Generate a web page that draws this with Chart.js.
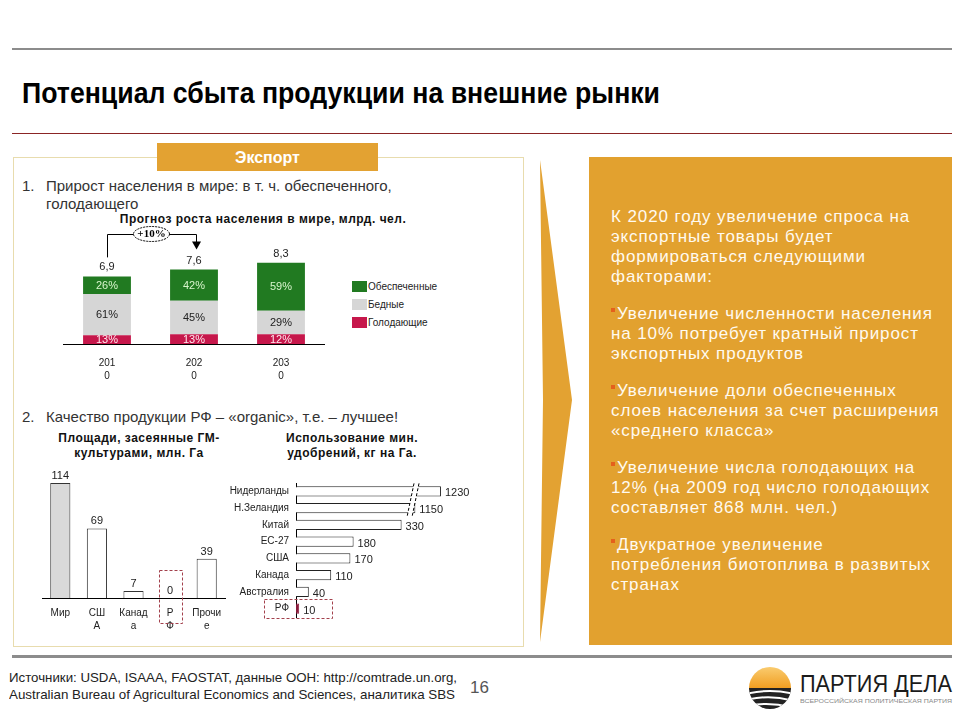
<!DOCTYPE html>
<html>
<head>
<meta charset="utf-8">
<script src="https://cdn.jsdelivr.net/npm/chart.js@4.4.0/dist/chart.umd.min.js"></script>
<style>
  body { margin: 0; background: #fff; }
  #page { position: relative; width: 960px; height: 720px; overflow: hidden;
          font-family: "Liberation Sans", Arial, sans-serif; color: #222; }
  .abs { position: absolute; white-space: nowrap; transform-origin: left center; }
  canvas { position: absolute; }
  .ctitle { position: absolute; font-weight: bold; font-size: 12px; line-height: 15px;
            text-align: center; letter-spacing: 0.5px; color: #111; }
  .right p { margin: 0 0 17px 0; }
  .bul { display: inline-block; width: 4px; height: 4px; background: #e4601c;
         vertical-align: top; margin: 4px 2px 0 0; }
  .leg { position: absolute; font-size: 10px; line-height: 11px; color: #222; }
  .leg span { display: inline-block; width: 15px; height: 11px; vertical-align: top; margin-right: 1px; }
</style>
</head>
<body>
<div id="page">
  <div class="abs" style="left:12px;top:48px;width:940px;height:2px;background:#8c8c8c"></div>
  <div class="abs" id="title" style="left:22px;top:76px;font-family:'Liberation Sans Narrow','Liberation Sans',Arial;font-weight:bold;font-size:29px;line-height:34px;color:#000">Потенциал сбыта продукции на внешние рынки</div>
  <div class="abs" style="left:12px;top:133px;width:940px;height:1px;background:#8b2525"></div>

  <!-- left panel -->
  <div class="abs" style="left:13px;top:157px;width:509px;height:488px;border:1px solid #e8dcae"></div>
  <div class="abs" style="left:157px;top:143px;width:221px;height:28px;background:#e3a232;color:#fff;font-weight:bold;font-size:16px;line-height:29px;text-align:center">Экспорт</div>

  <div class="abs" style="left:22px;top:177px;font-size:15px;line-height:18px;color:#333">1.</div>
  <div class="abs" style="left:46px;top:177px;font-size:15px;line-height:18px;color:#333">Прирост населения в мире: в т. ч. обеспеченного,<br>голодающего</div>
  <div class="ctitle" style="left:103px;top:212px;width:320px;line-height:14px">Прогноз роста населения в мире, млрд. чел.</div>

  <canvas id="popChart" width="300" height="176" style="left:40px;top:220px"></canvas>
  <div id="popLegend"></div>

  <div class="abs" style="left:22px;top:407px;font-size:15px;line-height:19px;color:#333">2.</div>
  <div class="abs" style="left:46px;top:407px;font-size:15px;line-height:19px;color:#333">Качество продукции РФ – «organic», т.е. – лучшее!</div>
  <div class="ctitle" style="left:29px;top:431px;width:220px">Площади, засеянные ГМ-<br>культурами, млн. Га</div>
  <div class="ctitle" style="left:247px;top:431px;width:210px">Использование мин.<br>удобрений, кг на Га.</div>

  <canvas id="gmChart" width="205" height="182" style="left:30px;top:460px"></canvas>
  <canvas id="fertChart" width="280" height="160" style="left:216px;top:470px"></canvas>

  <!-- right panel -->
  <svg class="abs" style="left:530px;top:150px" width="50" height="500">
    <polygon points="10,10 42,250 10,492 13,250" fill="#e3a232"/>
  </svg>
  <div class="abs" style="left:589px;top:157px;width:363px;height:488px;background:#e2a12f"></div>
  <div class="abs right" style="left:611px;top:207px;font-size:17px;line-height:20px;letter-spacing:0.9px;color:#fffaf0">
    <p>К 2020 году увеличение спроса на<br>экспортные товары будет<br>формироваться следующими<br>факторами:</p>
    <p><span class="bul"></span>Увеличение численности населения<br>на 10% потребует кратный прирост<br>экспортных продуктов</p>
    <p><span class="bul"></span>Увеличение доли обеспеченных<br>слоев населения за счет расширения<br>«среднего класса»</p>
    <p><span class="bul"></span>Увеличение числа голодающих на<br>12% (на 2009 год число голодающих<br>составляет 868 млн. чел.)</p>
    <p><span class="bul"></span>Двукратное увеличение<br>потребления биотоплива в развитых<br>странах</p>
  </div>

  <!-- footer -->
  <div class="abs" style="left:12px;top:655px;width:940px;height:3px;background:#8c8c8c"></div>
  <div class="abs" id="src1" style="left:9px;top:670px;font-family:'Liberation Sans Narrow','Liberation Sans',Arial;font-size:13px;line-height:16px;color:#222">Источники: USDA, ISAAA, FAOSTAT, данные ООН: http://comtrade.un.org,</div>
  <div class="abs" id="src2" style="left:9px;top:687px;font-family:'Liberation Sans Narrow','Liberation Sans',Arial;font-size:13px;line-height:16px;color:#222">Australian Bureau of Agricultural Economics and Sciences, аналитика SBS</div>
  <div class="abs" style="left:470px;top:679px;font-family:'Liberation Sans Narrow','Liberation Sans',Arial;font-size:17px;line-height:18px;color:#555">16</div>

  <svg class="abs" style="left:746px;top:664px" width="48" height="48" viewBox="0 0 48 48">
    <defs>
      <clipPath id="lc"><circle cx="24" cy="24" r="21"/></clipPath>
      <linearGradient id="sun" x1="0" y1="0" x2="0" y2="1">
        <stop offset="0" stop-color="#fbd27a"/><stop offset="1" stop-color="#f09a1a"/>
      </linearGradient>
    </defs>
    <g clip-path="url(#lc)">
      <rect x="0" y="0" width="48" height="26" fill="url(#sun)"/>
      <rect x="0" y="24" width="48" height="24" fill="#222"/>
      <path d="M0 30 Q24 24 48 30" stroke="#fff" stroke-width="2" fill="none"/>
      <path d="M0 36 Q24 30 48 37" stroke="#fff" stroke-width="2" fill="none"/>
      <path d="M0 42 Q24 37 48 44" stroke="#fff" stroke-width="2" fill="none"/>
    </g>
  </svg>
  <div class="abs" id="logo1" style="left:800px;top:671px;font-size:23px;line-height:26px;color:#1b1b1b">ПАРТИЯ ДЕЛА</div>
  <div class="abs" id="logo2" style="left:800px;top:697px;font-size:6px;line-height:8px;color:#888">ВСЕРОССИЙСКАЯ ПОЛИТИЧЕСКАЯ ПАРТИЯ</div>
</div>

<script>
// --- data ---
const popYears = [['201', '0'], ['202', '0'], ['203', '0']];
const popTotals = [6.9, 7.6, 8.3];
const shareFed = [26, 42, 59];
const sharePoor = [61, 45, 29];
const shareHungry = [13, 13, 12];
const popSeries = ['Обеспеченные', 'Бедные', 'Голодающие'];

const gmCountries = [['Мир'], ['СШ', 'А'], ['Канад', 'а'], ['Р', 'Ф'], ['Прочи', 'е']];
const gmAreas = [114, 69, 7, 0, 39];

const fertCountries = ['Нидерланды', 'Н.Зеландия', 'Китай', 'ЕС-27', 'США', 'Канада', 'Австралия', 'РФ'];
const fertUse = [1230, 1150, 330, 180, 170, 110, 40, 10];
const fertBreak = [350, 1127]; // cut-out range of the broken axis

const GREEN = '#217a21';
const GREY = '#d6d6d6';
const RED = '#c6174b';
const FONT = '"Liberation Sans", Arial, sans-serif';

Chart.defaults.font.family = FONT;
Chart.defaults.color = '#222';

function fitWidth(id, target) {
  const el = document.getElementById(id);
  const w = el.getBoundingClientRect().width;
  el.style.transform = `scaleX(${target / w})`;
}
fitWidth('title', 638);
fitWidth('src1', 448);
fitWidth('src2', 446);
fitWidth('logo1', 152);
fitWidth('logo2', 152);

/**
 * Population chart: stacked shares of each year's total
 */
const popPart = (shares) => shares.map((s, i) => popTotals[i] * s / 100);

const popLabels = {
  id: 'popLabels',
  afterDatasetsDraw(chart) {
    const ctx = chart.ctx;
    ctx.save();
    ctx.font = '11px ' + FONT;
    ctx.textAlign = 'center';
    ctx.textBaseline = 'middle';
    chart.data.datasets.forEach((ds, i) => {
      chart.getDatasetMeta(i).data.forEach((bar, j) => {
        ctx.fillStyle = ds.textColor;
        ctx.fillText(ds.shares[j] + '%', bar.x, (bar.y + bar.base) / 2 + 0.5);
      });
    });
    const tops = chart.getDatasetMeta(chart.data.datasets.length - 1).data;
    ctx.fillStyle = '#222';
    tops.forEach((bar, j) => {
      ctx.fillText(String(popTotals[j]).replace('.', ','), bar.x, bar.y - 9);
    });

    // "+10%" growth arrow from first to second bar
    const a = tops[0], b = tops[1];
    const yLine = chart.chartArea.top - 12;
    ctx.strokeStyle = '#000';
    ctx.lineWidth = 1;
    ctx.beginPath();
    ctx.moveTo(a.x + 0.5, a.y - 19);
    ctx.lineTo(a.x + 0.5, yLine + 0.5);
    ctx.lineTo(b.x + 2.5, yLine + 0.5);
    ctx.lineTo(b.x + 2.5, b.y - 27);
    ctx.stroke();
    ctx.fillStyle = '#000';
    ctx.beginPath();
    ctx.moveTo(b.x - 2, b.y - 28);
    ctx.lineTo(b.x + 7, b.y - 28);
    ctx.lineTo(b.x + 2.5, b.y - 20);
    ctx.closePath();
    ctx.fill();
    const ex = (a.x + b.x) / 2 + 1;
    ctx.beginPath();
    ctx.ellipse(ex, yLine, 18, 7.5, 0, 0, Math.PI * 2);
    ctx.fillStyle = '#fff';
    ctx.fill();
    ctx.setLineDash([2, 1]);
    ctx.stroke();
    ctx.setLineDash([]);
    ctx.fillStyle = '#000';
    ctx.font = 'bold 11px "Liberation Serif", serif';
    ctx.fillText('+10%', ex, yLine + 0.5);
    ctx.restore();
  },
};

const popChart = new Chart(document.getElementById('popChart'), {
  type: 'bar',
  data: {
    labels: popYears,
    datasets: [
      { label: popSeries[2], data: popPart(shareHungry), shares: shareHungry, backgroundColor: RED, textColor: '#ffe8ee' },
      { label: popSeries[1], data: popPart(sharePoor), shares: sharePoor, backgroundColor: GREY, textColor: '#222' },
      { label: popSeries[0], data: popPart(shareFed), shares: shareFed, backgroundColor: GREEN, textColor: '#d8f5cc' },
    ],
  },
  options: {
    responsive: false,
    animation: false,
    layout: { padding: { top: 26, left: 23.5, right: 15.5, bottom: 0 } },
    datasets: { bar: { categoryPercentage: 1, barPercentage: 0.55 } },
    scales: {
      x: {
        stacked: true,
        grid: { display: false, drawTicks: false },
        border: { display: true, color: '#000' },
        ticks: { padding: 13, color: '#222', font: { size: 10, lineHeight: 1.3 } },
      },
      y: { stacked: true, display: false, min: 0, max: 10 },
    },
    plugins: { legend: { display: false }, tooltip: { enabled: false } },
  },
  plugins: [popLabels],
});

// legend, top item first
const legendColors = [GREEN, GREY, RED];
document.getElementById('popLegend').innerHTML = popSeries
  .map((s, i) => `<div class="leg" style="left:352px;top:${281 + i * 18}px"><span style="background:${legendColors[i]}"></span>${s}</div>`)
  .join('');

/**
 * GM crop area chart
 */
const gmLabels = {
  id: 'gmLabels',
  afterDatasetsDraw(chart) {
    const ctx = chart.ctx;
    const bars = chart.getDatasetMeta(0).data;
    ctx.save();
    ctx.font = '11px ' + FONT;
    ctx.fillStyle = '#222';
    ctx.textAlign = 'center';
    ctx.textBaseline = 'middle';
    bars.forEach((bar, j) => ctx.fillText(String(gmAreas[j]), bar.x, bar.y - 7));
    // dashed frame around Russia
    const rf = bars[3];
    ctx.strokeStyle = '#a3404c';
    ctx.setLineDash([3, 2]);
    ctx.strokeRect(Math.round(rf.x - 11.5) + 0.5, rf.base - 27.5, 23, 53);
    ctx.restore();
  },
};

new Chart(document.getElementById('gmChart'), {
  type: 'bar',
  data: {
    labels: gmCountries,
    datasets: [{
      data: gmAreas,
      backgroundColor: ['#d9d9d9', '#fff', '#fff', '#fff', '#fff'],
      borderColor: '#333',
      borderWidth: 1,
    }],
  },
  options: {
    responsive: false,
    animation: false,
    layout: { padding: { top: 17, left: 12, right: 10, bottom: 0 } },
    datasets: { bar: { categoryPercentage: 1, barPercentage: 0.55 } },
    scales: {
      x: {
        grid: { display: false, drawTicks: false },
        border: { display: true, color: '#000' },
        ticks: { padding: 9, color: '#222', font: { size: 10, lineHeight: 1.3 } },
      },
      y: { display: false, min: 0, max: 120 },
    },
    plugins: { legend: { display: false }, tooltip: { enabled: false } },
  },
  plugins: [gmLabels],
});

/**
 * Fertilizer use chart with a broken value axis
 */
const fertShown = fertUse.map((v) => (v > fertBreak[1] ? v - (fertBreak[1] - fertBreak[0]) : v));

const fertLabels = {
  id: 'fertLabels',
  afterDatasetsDraw(chart) {
    const ctx = chart.ctx;
    const bars = chart.getDatasetMeta(0).data;
    const area = chart.chartArea;
    ctx.save();
    ctx.font = '11px ' + FONT;
    ctx.fillStyle = '#222';
    ctx.textAlign = 'left';
    ctx.textBaseline = 'middle';
    bars.forEach((bar, j) => ctx.fillText(String(fertUse[j]), bar.x + 4, bar.y + 2));

    // break marks across the long bars
    const bx = chart.scales.x.getPixelForValue(fertBreak[0]);
    const y0 = bars[0].y - 8, y1 = bars[1].y + 9;
    const slant = 6;
    ctx.fillStyle = '#fff';
    ctx.beginPath();
    ctx.moveTo(bx + slant, y0);
    ctx.lineTo(bx + slant + 5, y0);
    ctx.lineTo(bx + 5 - 1, y1);
    ctx.lineTo(bx - 1, y1);
    ctx.closePath();
    ctx.fill();
    ctx.strokeStyle = '#000';
    ctx.lineWidth = 1;
    ctx.setLineDash([3, 2]);
    [0, 5].forEach((d) => {
      ctx.beginPath();
      ctx.moveTo(bx + slant + d, y0);
      ctx.lineTo(bx - 1 + d, y1);
      ctx.stroke();
    });

    // dashed frame around Russia
    const rf = bars[bars.length - 1];
    ctx.strokeStyle = '#a3404c';
    ctx.strokeRect(area.left - 31.5, Math.round(rf.y) - 9.5, 68, 19);
    ctx.restore();
  },
};

new Chart(document.getElementById('fertChart'), {
  type: 'bar',
  data: {
    labels: fertCountries,
    datasets: [{
      data: fertShown,
      backgroundColor: fertUse.map((v, i) => (i === fertUse.length - 1 ? '#8b1c3c' : '#fff')),
      borderColor: fertUse.map((v, i) => (i === fertUse.length - 1 ? '#8b1c3c' : '#222')),
      borderWidth: 1,
    }],
  },
  options: {
    indexAxis: 'y',
    responsive: false,
    animation: false,
    layout: { padding: { top: 11, left: 0, right: 40, bottom: 10 } },
    datasets: { bar: { categoryPercentage: 1, barPercentage: 0.6 } },
    scales: {
      y: {
        grid: { display: false, drawTicks: false },
        border: { display: true, color: '#000' },
        ticks: { padding: 7, color: '#222', font: { size: 10 } },
        afterFit: (scale) => { scale.width = 80; },
      },
      x: { display: false, min: 0, max: 500 },
    },
    plugins: { legend: { display: false }, tooltip: { enabled: false } },
  },
  plugins: [fertLabels],
});
</script>
</body>
</html>
